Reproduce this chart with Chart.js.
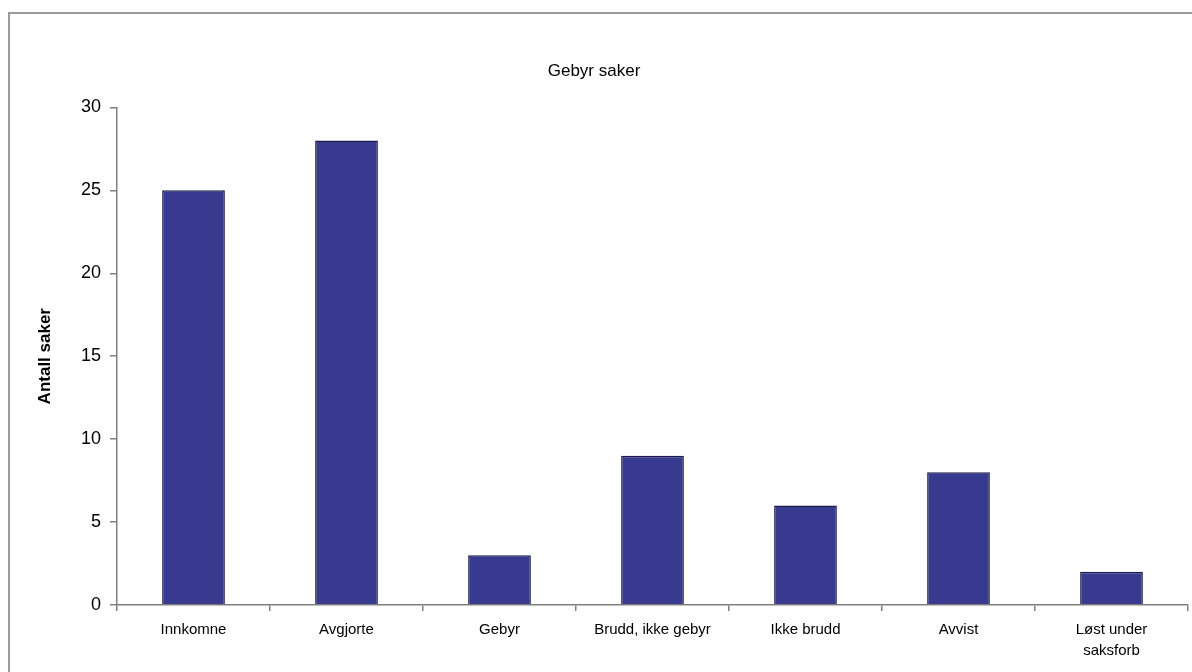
<!DOCTYPE html>
<html>
<head>
<meta charset="utf-8">
<script src="https://cdn.jsdelivr.net/npm/chart.js@4/dist/chart.umd.min.js"></script>
<style>
  html, body { margin: 0; padding: 0; background: #fff; }
  #wrap { position: relative; width: 1192px; height: 672px; overflow: hidden; }
  #frame { position: absolute; left: 8px; top: 12px; width: 1300px; height: 700px;
           border-left: 2px solid #9a9a9a; border-top: 2px solid #9a9a9a; }
  canvas { position: absolute; left: 0; top: 0; }
</style>
</head>
<body>
<div id="wrap">
  <div id="frame"></div>
  <canvas id="chart" width="1192" height="672"></canvas>
</div>
<script>
// Chart data
const categories = ['Innkomne', 'Avgjorte', 'Gebyr', 'Brudd, ikke gebyr', 'Ikke brudd', 'Avvist', ['Løst under', 'saksforb']];
const counts = [25, 28, 3, 9, 6, 8, 2];
const yTicks = [0, 5, 10, 15, 20, 25, 30];

const font = 'Liberation Sans, Arial, sans-serif';
const axisGray = '#808080';

document.addEventListener('DOMContentLoaded', function() {
  const ctx = document.getElementById('chart');
  new Chart(ctx, {
    type: 'bar',
    data: {
      labels: categories,
      datasets: [{
        data: counts,
        backgroundColor: '#383a90',
        borderColor: '#1c1d4f',
        borderWidth: 1.5,
        barPercentage: 0.41,
        categoryPercentage: 1
      }]
    },
    options: {
      responsive: false,
      animation: false,
      layout: { padding: { left: 0, right: 4, top: 0, bottom: 0 } },
      plugins: {
        legend: { display: false },
        tooltip: { enabled: false },
        title: {
          display: true,
          text: 'Gebyr saker',
          color: '#000',
          font: { family: font, size: 17, weight: 'normal', lineHeight: 1.2 },
          padding: { top: 61, bottom: 26 }
        }
      },
      scales: {
        x: {
          afterFit: function(scale) { scale.height = 67; },
          grid: {
            offset: true,
            drawOnChartArea: false,
            drawTicks: true,
            tickLength: 6,
            color: axisGray,
            lineWidth: 1.5
          },
          border: { display: true, color: axisGray, width: 1.5 },
          ticks: {
            color: '#000',
            padding: 8,
            maxRotation: 0,
            autoSkip: false,
            font: { family: font, size: 15, lineHeight: 1.4 }
          }
        },
        y: {
          min: 0,
          max: 30,
          afterFit: function(scale) { scale.width = 117; },
          afterBuildTicks: function(scale) { scale.ticks = yTicks.map(v => ({ value: v })); },
          grid: {
            drawOnChartArea: false,
            drawTicks: true,
            tickLength: 7,
            color: axisGray,
            lineWidth: 1.5
          },
          border: { display: true, color: axisGray, width: 1.5 },
          ticks: {
            color: '#000',
            padding: 9,
            font: { family: font, size: 18 }
          },
          title: {
            display: true,
            text: 'Antall saker',
            color: '#000',
            font: { family: font, size: 17, weight: 'bold', lineHeight: 1.2 },
            padding: { top: 35, bottom: 0 }
          }
        }
      }
    }
  });
});
</script>
</body>
</html>
